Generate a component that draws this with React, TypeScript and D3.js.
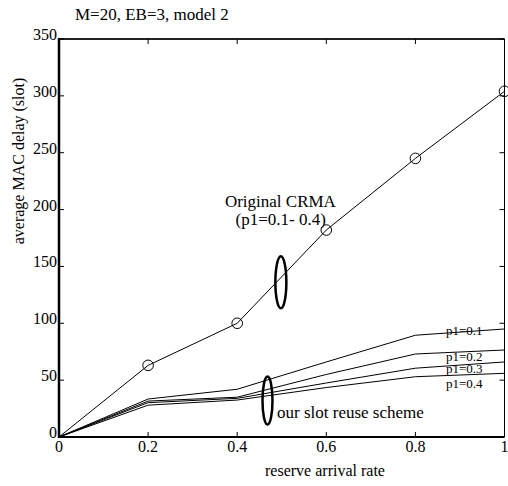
import React from "react";
import * as d3 from "d3";

const xVals = [0, 0.2, 0.4, 0.6, 0.8, 1];
const crma = [0, 63, 100, 182, 245, 304];
const p01 = [0, 33.4, 42, 66, 89.5, 95];
const p02 = [0, 31.6, 35, 55, 73, 76.5];
const p03 = [0, 30.2, 34, 47.5, 60.5, 66];
const p04 = [0, 28, 32.5, 43.5, 53, 56];
const schemeSeries = [p01, p02, p03, p04];
const schemeLabels = ["p1=0.1", "p1=0.2", "p1=0.3", "p1=0.4"];
const labelY = [93, 70.5, 59.8, 46.3];
const xTicks = [0, 0.2, 0.4, 0.6, 0.8, 1];
const xTickLabels = ["0", "0.2", "0.4", "0.6", "0.8", "1"];
const yTicks = [0, 50, 100, 150, 200, 250, 300, 350];

const W = 508;
const H = 486;
const FONT = "'Liberation Serif', 'Times New Roman', serif";

export default function App() {
  const x = d3.scaleLinear().domain([0, 1]).range([59, 504.5]);
  const y = d3.scaleLinear().domain([0, 350]).range([437, 39]);
  const line = d3
    .line<number>()
    .x((_, i) => x(xVals[i]))
    .y((d) => y(d));
  const tl = 5;

  return (
    <svg
      width={W}
      height={H}
      style={{ position: "absolute", left: 0, top: 0, background: "#fff" }}
      fontFamily={FONT}
    >
      <rect x={0} y={0} width={W} height={H} fill="#fff" />
      {/* title */}
      <text x={75} y={20} fontSize={17}>
        M=20, EB=3, model 2
      </text>

      {/* series */}
      <path d={line(crma) || ""} fill="none" stroke="#000" strokeWidth={1} />
      {crma.map((v, i) =>
        i === 0 ? null : (
          <circle key={i} cx={x(xVals[i])} cy={y(v)} r={5.3} fill="none" stroke="#000" strokeWidth={1} />
        )
      )}
      {schemeSeries.map((s, k) => (
        <path key={k} d={line(s) || ""} fill="none" stroke="#000" strokeWidth={1} />
      ))}
      {schemeLabels.map((t, k) => (
        <text key={t} x={446} y={y(labelY[k]) + 4} fontSize={13}>
          {t}
        </text>
      ))}

      {/* annotations */}
      <text x={x(0.497)} y={207} fontSize={17} textAnchor="middle">
        Original CRMA
      </text>
      <text x={x(0.4975)} y={225} fontSize={17} textAnchor="middle">
        (p1=0.1- 0.4)
      </text>
      <ellipse cx={x(0.498)} cy={y(136)} rx={5.5} ry={26} fill="none" stroke="#000" strokeWidth={2.5} />
      <ellipse cx={x(0.468)} cy={y(32)} rx={5} ry={24} fill="none" stroke="#000" strokeWidth={2.5} />
      <text x={277} y={418} fontSize={17}>
        our slot reuse scheme
      </text>

      {/* frame */}
      <line x1={x(0)} x2={x(1)} y1={y(350)} y2={y(350)} stroke="#222" strokeWidth={2} />
      <line x1={x(1)} x2={x(1)} y1={y(350)} y2={y(0)} stroke="#000" strokeWidth={1} />
      <line x1={x(0)} x2={x(0)} y1={y(350) - 1} y2={y(0) + 1} stroke="#000" strokeWidth={2.5} />
      <line x1={x(0)} x2={x(1)} y1={y(0)} y2={y(0)} stroke="#000" strokeWidth={2} />

      {/* ticks */}
      {xTicks.map((t, i) => (
        <g key={"x" + i}>
          <line x1={x(t)} x2={x(t)} y1={y(0)} y2={y(0) - tl} stroke="#000" strokeWidth={1} />
          <line x1={x(t)} x2={x(t)} y1={y(350)} y2={y(350) + tl} stroke="#000" strokeWidth={1} />
          <text x={x(t)} y={452} fontSize={16} textAnchor="middle">
            {xTickLabels[i]}
          </text>
        </g>
      ))}
      {yTicks.map((t) => (
        <g key={"y" + t}>
          <line x1={x(0)} x2={x(0) + tl} y1={y(t)} y2={y(t)} stroke="#000" strokeWidth={1} />
          <line x1={x(1)} x2={x(1) - tl} y1={y(t)} y2={y(t)} stroke="#000" strokeWidth={1} />
          <text x={57} y={y(t) + 1} fontSize={16} textAnchor="end">
            {t}
          </text>
        </g>
      ))}

      {/* axis labels */}
      <text x={325} y={476} fontSize={16} textAnchor="middle">
        reserve arrival rate
      </text>
      <text
        transform={`translate(23.5, 161) rotate(-90)`}
        fontSize={16}
        textAnchor="middle"
      >
        average MAC delay (slot)
      </text>
    </svg>
  );
}
